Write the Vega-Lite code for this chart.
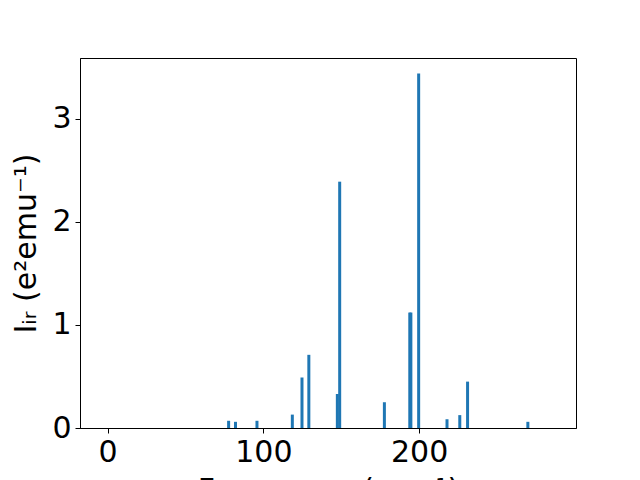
{
  "$schema": "https://vega.github.io/schema/vega-lite/v6.json",
  "width": 496,
  "height": 370,
  "autosize": {"type": "none"},
  "padding": {"left": 80, "top": 58, "right": 64, "bottom": 52},
  "background": "white",
  "config": {
    "font": "DejaVu Sans",
    "view": {"stroke": "black", "strokeWidth": 1},
    "axis": {
      "domainColor": "black",
      "tickColor": "black",
      "labelColor": "black",
      "titleColor": "black",
      "grid": false,
      "labelFont": "DejaVu Sans",
      "titleFont": "DejaVu Sans",
      "labelFontSize": 30,
      "titleFontSize": 30,
      "titleFontWeight": "normal",
      "tickSize": 5,
      "labelPadding": 4
    }
  },
  "data": {
    "values": [
      {"freq": 77.7, "ir": 0.07},
      {"freq": 82.1, "ir": 0.06},
      {"freq": 95.9, "ir": 0.07},
      {"freq": 118.6, "ir": 0.13},
      {"freq": 124.8, "ir": 0.49},
      {"freq": 129.2, "ir": 0.71},
      {"freq": 147.5, "ir": 0.33},
      {"freq": 149.0, "ir": 2.39},
      {"freq": 177.7, "ir": 0.25},
      {"freq": 194.0, "ir": 1.12},
      {"freq": 194.7, "ir": 1.12},
      {"freq": 199.7, "ir": 3.44},
      {"freq": 217.9, "ir": 0.085},
      {"freq": 226.1, "ir": 0.125},
      {"freq": 231.1, "ir": 0.45},
      {"freq": 269.8, "ir": 0.06}
    ]
  },
  "mark": {"type": "bar", "orient": "vertical", "size": 3, "color": "#1f77b4"},
  "encoding": {
    "x": {
      "field": "freq",
      "type": "quantitative",
      "scale": {"domain": [-14.5, 297.5], "nice": false, "zero": false},
      "axis": {"values": [0, 100, 200], "title": "Frequency (cm⁻¹)", "titlePadding": 8}
    },
    "y": {
      "field": "ir",
      "type": "quantitative",
      "scale": {"domain": [0, 3.59], "nice": false},
      "axis": {"values": [0, 1, 2, 3], "title": "Iᵢᵣ (e²emu⁻¹)", "titlePadding": 10}
    }
  }
}
